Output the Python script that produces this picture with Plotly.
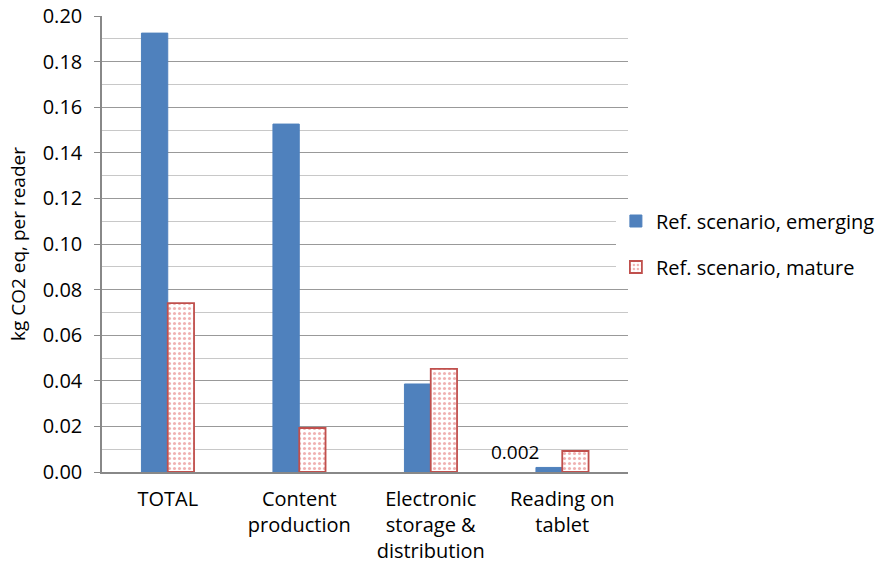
import plotly.graph_objects as go

categories = ["TOTAL", "Content<br>production", "Electronic<br>storage &<br>distribution", "Reading on<br>tablet"]
emerging = [0.1925, 0.1526, 0.0386, 0.002]
mature = [0.0741, 0.0193, 0.0452, 0.0092]
labelled_index = 3  # only the smallest emerging bar carries a value label
y_ticks = [0.00, 0.02, 0.04, 0.06, 0.08, 0.10, 0.12, 0.14, 0.16, 0.18, 0.20]

FONT = "Open Sans"
SIZE = 20
BLUE = "#4F81BD"
RED = "#C0504D"

fig = go.Figure()
fig.add_trace(go.Bar(
    x=categories, y=emerging, name="Ref. scenario, emerging",
    marker=dict(color=BLUE, line=dict(color=BLUE, width=1)),
    legendgroup="a",
))
fig.add_trace(go.Bar(
    x=categories, y=mature, name="Ref. scenario, mature",
    marker=dict(
        color="white",
        line=dict(color=RED, width=1.8),
        pattern=dict(shape=".", fgcolor="#E06666", bgcolor="white", size=5, solidity=0.3),
    ),
    legendgroup="b",
))

# value label for the tiny bar, set to the left of it
fig.add_annotation(
    x=categories[labelled_index], y=emerging[labelled_index],
    text=f"{emerging[labelled_index]:.3f}", showarrow=False,
    xanchor="center", yanchor="bottom", xshift=-47, yshift=0,
    font=dict(family=FONT, size=SIZE - 1, color="#000"),
)

fig.update_layout(
    width=884, height=574,
    margin=dict(l=102, r=256, t=16, b=102, autoexpand=False),
    paper_bgcolor="white", plot_bgcolor="white",
    barmode="group", bargap=0.6, bargroupgap=0,
    font=dict(family=FONT, size=SIZE, color="#000"),
    showlegend=True,
    legend=dict(x=0.977, y=0.5, xanchor="left", yanchor="middle",
                tracegroupgap=17, font=dict(family=FONT, size=SIZE)),
    xaxis=dict(
        automargin=False,
        showline=True, linecolor="#888", linewidth=1.5,
        ticks="", tickfont=dict(family=FONT, size=SIZE),
        ticklabelstandoff=8,
    ),
    yaxis=dict(
        automargin=False,
        range=[0, 0.20], tickvals=y_ticks, tickformat=".2f",
        showline=True, linecolor="#888", linewidth=1.5,
        ticks="outside", ticklen=6, tickcolor="#888",
        ticklabelstandoff=8,
        showgrid=True, gridcolor="#999", gridwidth=1.3,
        minor=dict(dtick=0.01, showgrid=True, gridcolor="#c8c8c8", gridwidth=1.3),
        zeroline=False,
        title=dict(text="kg CO2 eq, per reader", font=dict(family=FONT, size=SIZE - 1), standoff=12),
        tickfont=dict(family=FONT, size=SIZE),
    ),
)

fig.write_html("out.html")
